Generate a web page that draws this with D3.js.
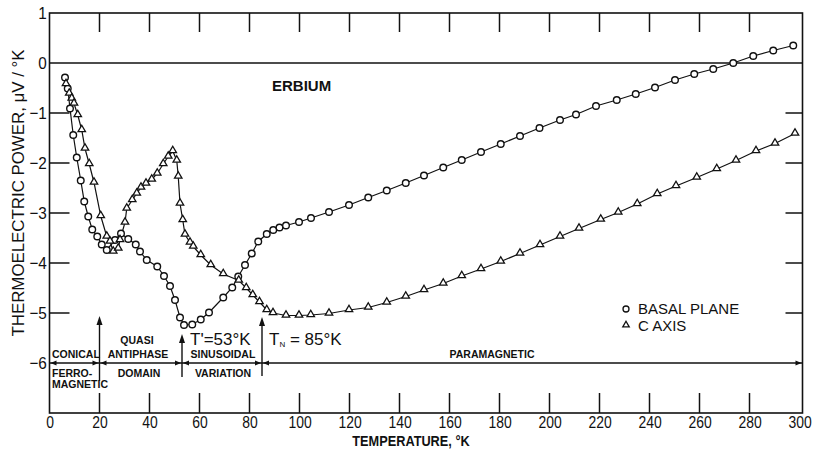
<!DOCTYPE html>
<html>
<head>
<meta charset="utf-8">
<script src="https://cdn.jsdelivr.net/npm/d3@7"></script>
<style>
  body { margin: 0; background: #fff; }
  svg { display: block; }
  text { font-family: "Liberation Sans", Arial, sans-serif; fill: #111; }
</style>
</head>
<body>
<svg id="chart" width="815" height="454"></svg>
<script>
// basal plane (circles)
var basalT = [6.2, 7.3, 8.2, 9.5, 10.9, 12.5, 13.9, 15.5, 17.1, 19.1, 20.9, 22.9, 26.2, 28.6,
  31.5, 34.5, 36.2, 38.9, 43.1, 45.8, 48.2, 50.2, 52.2, 53.8, 57.1, 60.5, 63.8, 69.5, 73.1,
  75.5, 78.2, 80.9, 83.5, 86.9, 89.5, 92.0, 94.6, 99.8, 104.6, 111.8, 119.8, 127.5, 134.9,
  142.5, 149.8, 157.5, 164.9, 172.6, 180.5, 188.2, 196.0, 204.2, 210.6, 218.6, 226.9, 234.5,
  242.2, 250.2, 257.9, 265.5, 273.5, 281.5, 289.5, 297.5];
var basalV = [-0.29, -0.51, -0.91, -1.44, -1.89, -2.35, -2.77, -3.07, -3.33, -3.47, -3.63, -3.74, -3.54, -3.41,
  -3.52, -3.63, -3.77, -3.94, -4.07, -4.26, -4.46, -4.74, -5.09, -5.24, -5.23, -5.13, -4.99, -4.69, -4.49,
  -4.27, -4.04, -3.81, -3.57, -3.42, -3.34, -3.29, -3.25, -3.18, -3.10, -2.98, -2.84, -2.69, -2.55,
  -2.40, -2.25, -2.09, -1.94, -1.78, -1.62, -1.46, -1.30, -1.14, -1.03, -0.86, -0.74, -0.62,
  -0.49, -0.34, -0.22, -0.12, 0.00, 0.14, 0.25, 0.35];

// c axis (triangles)
var caxisT = [6.6, 7.9, 8.9, 9.8, 11.3, 12.9, 14.2, 15.9, 17.8, 20.5, 22.9, 24.2, 25.5, 27.5, 28.2,
  30.2, 30.9, 33.1, 34.9, 36.6, 38.6, 40.9, 43.1, 45.5, 47.5, 49.3, 50.9, 51.5, 52.2, 53.3, 54.2,
  56.2, 57.5, 60.5, 64.5, 69.5, 75.7, 78.7, 81.3, 84.0, 86.9, 89.4, 94.6, 99.8, 104.5, 111.8,
  119.8, 127.5, 134.9, 142.5, 149.8, 157.5, 164.9, 172.6, 180.5, 188.2, 196.2, 204.2, 211.8,
  220.5, 227.5, 235.1, 243.1, 250.6, 258.9, 266.9, 274.6, 282.6, 290.2, 298.2];
var caxisV = [-0.42, -0.61, -0.71, -0.81, -1.04, -1.34, -1.71, -2.02, -2.39, -3.06, -3.47, -3.57, -3.77, -3.71, -3.54,
  -3.19, -2.91, -2.74, -2.61, -2.49, -2.41, -2.33, -2.21, -2.02, -1.87, -1.76, -1.95, -2.27, -2.81, -3.14, -3.43,
  -3.59, -3.67, -3.84, -4.04, -4.22, -4.35, -4.50, -4.64, -4.78, -4.94, -5.00, -5.05, -5.05, -5.04, -5.01,
  -4.94, -4.89, -4.79, -4.67, -4.54, -4.41, -4.26, -4.12, -3.97, -3.81, -3.64, -3.47, -3.31,
  -3.13, -2.99, -2.82, -2.62, -2.46, -2.29, -2.12, -1.95, -1.76, -1.61, -1.41];

var xTicks = [0, 20, 40, 60, 80, 100, 120, 140, 160, 180, 200, 220, 240, 260, 280, 300];
var yTicks = [1, 0, -1, -2, -3, -4, -5, -6];
var innerXTicks = [20, 40, 60, 80, 100, 120, 140, 160, 180, 200, 220, 240, 260, 280];
var innerYTicks = [-1, -2, -3, -4, -5];
var phaseBounds = [20, 53, 85];

function draw() {
  var svg = d3.select("#chart");
  var x = d3.scaleLinear().domain([0, 300]).range([49.5, 799.5]);
  var y = d3.scaleLinear().domain([-7, 1]).range([413, 13]);
  var x0 = x(0), x1 = 802.5, y0 = y(1), y1 = y(-7);
  var ink = "#111";

  function zip(a, b) { return a.map(function(d, i) { return [d, b[i]]; }); }
  var basal = zip(basalT, basalV);
  var caxis = zip(caxisT, caxisV);

  // frame
  svg.append("rect")
    .attr("x", x0).attr("y", y0)
    .attr("width", x1 - x0).attr("height", y1 - y0)
    .attr("fill", "none").attr("stroke", ink).attr("stroke-width", 1.6);

  // inner ticks on all four sides
  var ticks = svg.append("g").attr("stroke", ink).attr("stroke-width", 1.5);
  ticks.selectAll("line.bt").data(innerXTicks).enter().append("line").attr("class", "bt")
    .attr("x1", x).attr("x2", x).attr("y1", y1).attr("y2", y1 - 20);
  ticks.selectAll("line.tt").data(innerXTicks).enter().append("line").attr("class", "tt")
    .attr("x1", x).attr("x2", x).attr("y1", y0).attr("y2", y0 + 19);
  ticks.selectAll("line.lt").data(innerYTicks).enter().append("line").attr("class", "lt")
    .attr("x1", x0).attr("x2", x0 + 20).attr("y1", y).attr("y2", y);
  ticks.selectAll("line.rt").data(innerYTicks).enter().append("line").attr("class", "rt")
    .attr("x1", x1).attr("x2", x1 - 17).attr("y1", y).attr("y2", y);

  // tick labels through d3 axes
  var bAxis = svg.append("g").attr("transform", "translate(0," + y1 + ")")
    .call(d3.axisBottom(x).tickValues(xTicks).tickSizeInner(0).tickSizeOuter(0).tickPadding(3));
  var lAxis = svg.append("g").attr("transform", "translate(" + x0 + ",0)")
    .call(d3.axisLeft(y).tickValues(yTicks).tickSizeInner(0).tickSizeOuter(0).tickPadding(3));
  [bAxis, lAxis].forEach(function(a) {
    a.select(".domain").remove();
    a.selectAll(".tick line").remove();
    a.selectAll("text")
      .attr("font-size", 17).attr("font-family", "Liberation Sans, Arial, sans-serif")
      .attr("fill", ink);
  });
  bAxis.selectAll(".tick text").attr("transform", "scale(0.82,1)");
  lAxis.selectAll(".tick text").attr("transform", "scale(0.9,1)");

  // zero line and -6 line
  [0, -6].forEach(function(v) {
    svg.append("line").attr("x1", x0).attr("x2", x1)
      .attr("y1", y(v)).attr("y2", y(v))
      .attr("stroke", ink).attr("stroke-width", v === 0 ? 1.6 : 1.3);
  });

  // small arrowheads on the -6 line
  var y6 = y(-6);
  function hArrow(px, dir) {
    svg.append("path")
      .attr("d", "M" + px + "," + y6 + "l" + (-dir * 6) + ",-2.5l0,5z")
      .attr("fill", ink);
  }
  hArrow(x0 + 1, -1);
  hArrow(x1 - 1, 1);
  phaseBounds.forEach(function(t) { hArrow(x(t) - 1, 1); hArrow(x(t) + 1, -1); });

  // vertical arrows at transitions
  var arrowSpans = [[316, 381], [334, 377], [317, 376]];
  phaseBounds.forEach(function(t, i) {
    var px = x(t);
    svg.append("line").attr("x1", px).attr("x2", px)
      .attr("y1", arrowSpans[i][0] + 4).attr("y2", arrowSpans[i][1])
      .attr("stroke", ink).attr("stroke-width", 1.4);
    svg.append("path")
      .attr("d", "M" + px + "," + arrowSpans[i][0] + "l-3,9l6,0z")
      .attr("fill", ink);
  });

  // data lines
  var line = d3.line().x(function(d) { return x(d[0]); }).y(function(d) { return y(d[1]); });
  [basal, caxis].forEach(function(s) {
    svg.append("path").datum(s).attr("d", line)
      .attr("fill", "none").attr("stroke", ink).attr("stroke-width", 1.2);
  });

  svg.append("g").selectAll("circle").data(basal).enter().append("circle")
    .attr("cx", function(d) { return x(d[0]); })
    .attr("cy", function(d) { return y(d[1]); })
    .attr("r", 3.3).attr("fill", "#fff").attr("stroke", ink).attr("stroke-width", 1.4);

  var tri = d3.symbol().type(d3.symbolTriangle).size(24);
  svg.append("g").selectAll("path").data(caxis).enter().append("path")
    .attr("d", tri)
    .attr("transform", function(d) { return "translate(" + x(d[0]) + "," + (y(d[1]) - 0.5) + ")"; })
    .attr("fill", "#fff").attr("stroke", ink).attr("stroke-width", 1.3);

  // titles
  svg.append("text").attr("x", 411).attr("y", 446)
    .attr("text-anchor", "middle").attr("font-size", 15).attr("font-weight", "bold")
    .attr("transform", "translate(411,0) scale(0.85,1) translate(-411,0)")
    .text("TEMPERATURE, °K");

  svg.append("text")
    .attr("transform", "translate(24,193) rotate(-90)")
    .attr("text-anchor", "middle").attr("font-size", 16)
    .attr("textLength", 287).attr("lengthAdjust", "spacingAndGlyphs")
    .text("THERMOELECTRIC POWER, μV / °K");

  svg.append("text").attr("x", 272).attr("y", 91)
    .attr("font-size", 15).attr("font-weight", "bold").text("ERBIUM");

  // legend
  svg.append("circle").attr("cx", 626).attr("cy", 309).attr("r", 3)
    .attr("fill", "#fff").attr("stroke", ink).attr("stroke-width", 1.3);
  svg.append("path").attr("d", d3.symbol().type(d3.symbolTriangle).size(18))
    .attr("transform", "translate(626,325)")
    .attr("fill", "#fff").attr("stroke", ink).attr("stroke-width", 1.3);
  svg.append("text").attr("x", 638).attr("y", 314).attr("font-size", 15).text("BASAL PLANE");
  svg.append("text").attr("x", 638).attr("y", 331).attr("font-size", 15).text("C AXIS");

  // phase labels
  var phaseLabels = [
    { t: "CONICAL", x: 52, y: 358, a: "start" },
    { t: "FERRO-", x: 52, y: 377, a: "start" },
    { t: "MAGNETIC", x: 52, y: 388, a: "start" },
    { t: "QUASI", x: 137, y: 344, a: "middle" },
    { t: "ANTIPHASE", x: 138, y: 358, a: "middle" },
    { t: "DOMAIN", x: 139, y: 377, a: "middle" },
    { t: "SINUSOIDAL", x: 223, y: 358, a: "middle" },
    { t: "VARIATION", x: 223, y: 377, a: "middle" },
    { t: "PARAMAGNETIC", x: 492, y: 358, a: "middle" }
  ];
  svg.append("g").selectAll("text").data(phaseLabels).enter().append("text")
    .attr("x", function(d) { return d.x; }).attr("y", function(d) { return d.y; })
    .attr("text-anchor", function(d) { return d.a; })
    .attr("font-size", 10.5).attr("font-weight", "bold")
    .text(function(d) { return d.t; });

  svg.append("text").attr("x", 190).attr("y", 345).attr("font-size", 17).text("T'=53°K");
  var tn = svg.append("text").attr("x", 269).attr("y", 345).attr("font-size", 17);
  tn.append("tspan").text("T");
  tn.append("tspan").attr("font-size", 8).attr("dy", 2).text("N");
  tn.append("tspan").attr("dy", -2).text(" = 85°K");
}

draw();
</script>
</body>
</html>
